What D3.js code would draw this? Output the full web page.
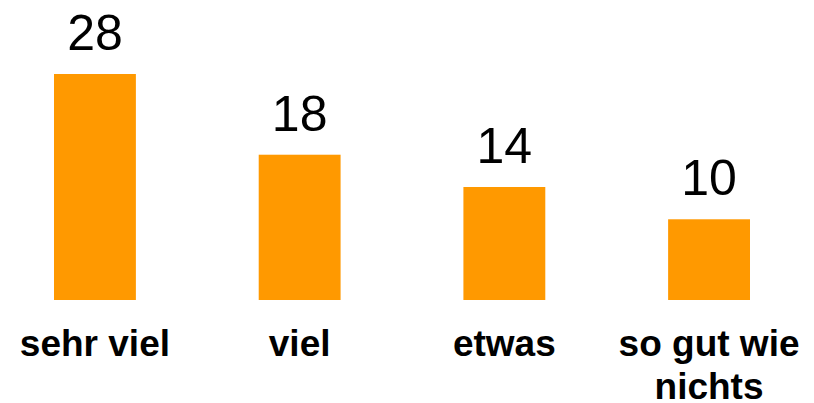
<!DOCTYPE html>
<html>
<head>
<meta charset="utf-8">
<script src="https://cdn.jsdelivr.net/npm/d3@7"></script>
<title>Balken</title>
<style>
body { margin: 0; background: #fff; }
</style>
</head>
<body>
<script>

var categories = [["sehr viel"], ["viel"], ["etwas"], ["so gut wie", "nichts"]];
var values = [28, 18, 14, 10];

var width = 814,
    height = 403;

var svg = d3.select( "body" )
  .append( "svg" )
  .attr( "width", width )
  .attr( "height", height );

var x = d3.scaleBand()
    .domain( d3.range( values.length ) )
    .range( [54, 750] )
    .paddingInner( 0.6 )
    .paddingOuter( 0 );

var y = d3.scaleLinear()
    .domain( [0, 28] )
    .range( [300, 74] );

svg.selectAll( "rect" )
  .data( values )
  .enter()
  .append( "rect" )
  .attr( "x", function(d, i) { return x(i); } )
  .attr( "y", function(d) { return y(d); } )
  .attr( "width", x.bandwidth() )
  .attr( "height", function(d) { return y(0) - y(d); } )
  .attr( "fill", "#ff9900" );

svg.selectAll( "text.val" )
  .data( values )
  .enter()
  .append( "text" )
  .attr( "class", "val" )
  .attr( "x", function(d, i) { return x(i) + x.bandwidth() / 2; } )
  .attr( "y", function(d) { return y(d) - 24; } )
  .attr( "text-anchor", "middle" )
  .style( "font-family", "Liberation Sans, Arial, sans-serif" )
  .style( "font-size", "50px" )
  .text( function(d) { return d; } );

var cat = svg.selectAll( "text.cat" )
  .data( categories )
  .enter()
  .append( "text" )
  .attr( "class", "cat" )
  .attr( "text-anchor", "middle" )
  .style( "font-family", "Liberation Sans, Arial, sans-serif" )
  .style( "font-size", "37px" )
  .style( "font-weight", "bold" );

cat.selectAll( "tspan" )
  .data( function(d, i) { return d.map(function(t) { return { t: t, i: i }; }); } )
  .enter()
  .append( "tspan" )
  .attr( "x", function(d) { return x(d.i) + x.bandwidth() / 2; } )
  .attr( "y", function(d, j) { return 356 + j * 43; } )
  .text( function(d) { return d.t; } );

</script>
</body>
</html>
